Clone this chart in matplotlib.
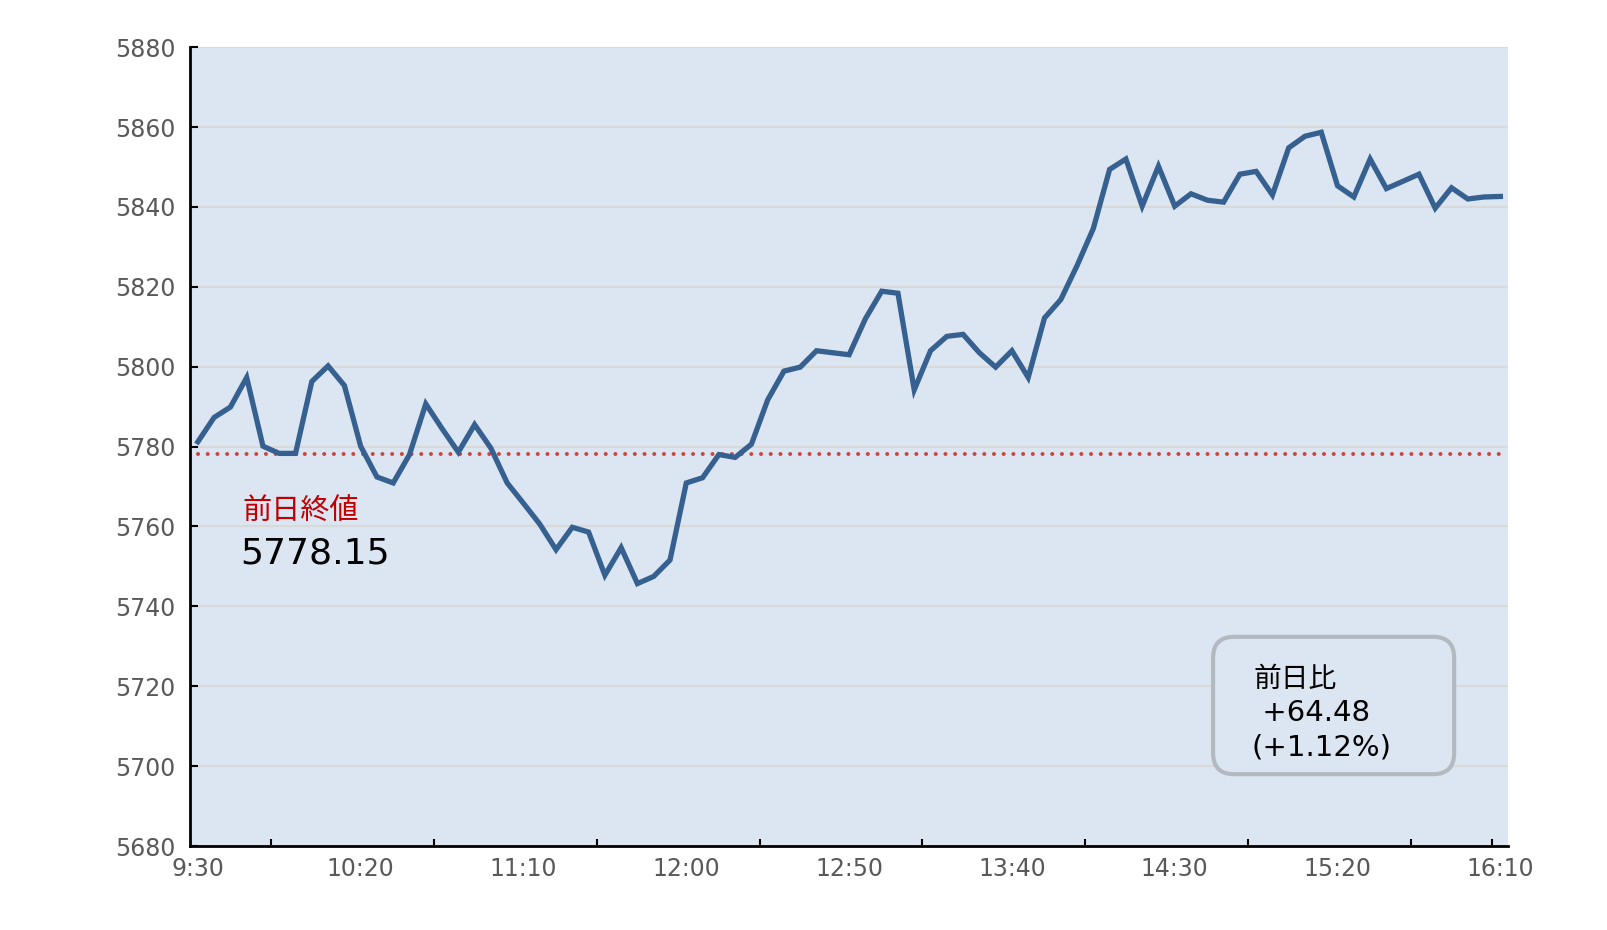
import matplotlib
matplotlib.use("Agg")
import matplotlib.pyplot as plt
from matplotlib.patches import FancyBboxPatch
import numpy as np

plt.rcParams['font.family'] = ['DejaVu Sans', 'Noto Sans CJK JP']

# ---- data ----
times = ["9:30", "10:20", "11:10", "12:00", "12:50", "13:40", "14:30", "15:20", "16:10"]
values = [
    5781.2, 5787.3, 5789.9, 5797.3, 5780.1, 5778.3, 5778.3, 5796.3, 5800.2, 5795.3,
    5780.1, 5772.4, 5770.9, 5778.0, 5790.7, 5784.5, 5778.6, 5785.5, 5779.6, 5770.9,
    5765.8, 5760.6, 5754.2, 5759.8, 5758.6, 5747.8, 5754.7, 5745.7, 5747.5, 5751.6,
    5770.9, 5772.2, 5778.0, 5777.3, 5780.6, 5791.7, 5798.9, 5799.9, 5804.0, 5803.5,
    5803.0, 5812.0, 5818.9, 5818.4, 5794.2, 5804.0, 5807.6, 5808.1, 5803.5, 5799.9,
    5804.0, 5797.3, 5812.2, 5816.8, 5825.3, 5834.6, 5849.4, 5852.0, 5840.2, 5850.2,
    5840.2, 5843.3, 5841.7, 5841.2, 5848.2, 5848.9, 5843.0, 5854.8, 5857.7, 5858.7,
    5845.3, 5842.5, 5852.0, 5844.6, 5846.4, 5848.2, 5839.7, 5844.8, 5842.0, 5842.5,
    5842.63,
]
prev_close = 5778.15
change = 64.48
change_pct = 1.12
yticks = list(range(5680, 5881, 20))

n = len(values)
x = np.arange(n)

fig = plt.figure(figsize=(16.08, 9.30), dpi=100)
ax = fig.add_axes([189.7 / 1608, 1 - 846 / 930, (1508.5 - 189.7) / 1608, (846 - 47.2) / 930])
ax.set_facecolor('#dce6f2')

ax.set_xlim(-0.5, n - 0.5)
ax.set_ylim(5680, 5880)
ax.set_yticks(yticks)
ax.set_yticklabels([str(v) for v in yticks])
ax.grid(axis='y', color='#d9d9d9', linewidth=1.5, zorder=1)
ax.set_axisbelow(True)

major = np.arange(0, n, 10)
ax.set_xticks(major)
ax.set_xticklabels(times)
minor = list(np.arange(4.5, n - 1, 10)) + [n - 1.5]
ax.set_xticks(minor, minor=True)
ax.tick_params(axis='x', which='major', length=0, labelsize=17, labelcolor='#595959', pad=8)
ax.tick_params(axis='x', which='minor', direction='in', length=5, width=1.5, color='black')
ax.tick_params(axis='y', direction='in', length=6, width=1.5, labelsize=17, labelcolor='#595959', pad=10)

for s in ['top', 'right']:
    ax.spines[s].set_visible(False)
for s in ['left', 'bottom']:
    ax.spines[s].set_linewidth(2)
    ax.spines[s].set_color('black')

ax.plot([x[0], x[-1]], [prev_close, prev_close], color='#c9473f',
        linestyle=(0, (0.01, 2.4)), linewidth=2.9, dash_capstyle='round', zorder=2)
ax.plot(x, values, color='#35608f', linewidth=3.8, solid_joinstyle='miter', zorder=3)

ax.text(2.77, 5763.6, "前日終値", color='#c00000', fontsize=21, ha='left', va='center',
        family=['Noto Sans CJK JP', 'DejaVu Sans'])
ax.text(2.58, 5753.3, f"{prev_close:.2f}", color='black', fontsize=26, ha='left', va='center')

x0, x1, y0, y1 = 0.776, 0.9588, 0.0899, 0.2619
W = (1508.5 - 189.7)
H = (846 - 47.2)
r = 0.016
box = FancyBboxPatch((x0 + r, y0 + r * W / H), (x1 - x0) - 2 * r, (y1 - y0) - 2 * r * W / H,
                     boxstyle=f"round,pad={r},rounding_size={r}", mutation_aspect=W / H,
                     transform=ax.transAxes, facecolor='#dce6f2', edgecolor='#b4b9c0',
                     linewidth=3, zorder=4)
ax.add_patch(box)
ax.text(0.8064, 0.2092, "前日比", transform=ax.transAxes, fontsize=20, ha='left', va='center', zorder=5,
        family=['Noto Sans CJK JP', 'DejaVu Sans'])
ax.text(0.8064, 0.1669, f" +{change:.2f}", transform=ax.transAxes, fontsize=21, ha='left', va='center', zorder=5)
ax.text(0.805, 0.1232, f"(+{change_pct:.2f}%)", transform=ax.transAxes, fontsize=21, ha='left', va='center', zorder=5)

fig.savefig("out.png", dpi=100)
